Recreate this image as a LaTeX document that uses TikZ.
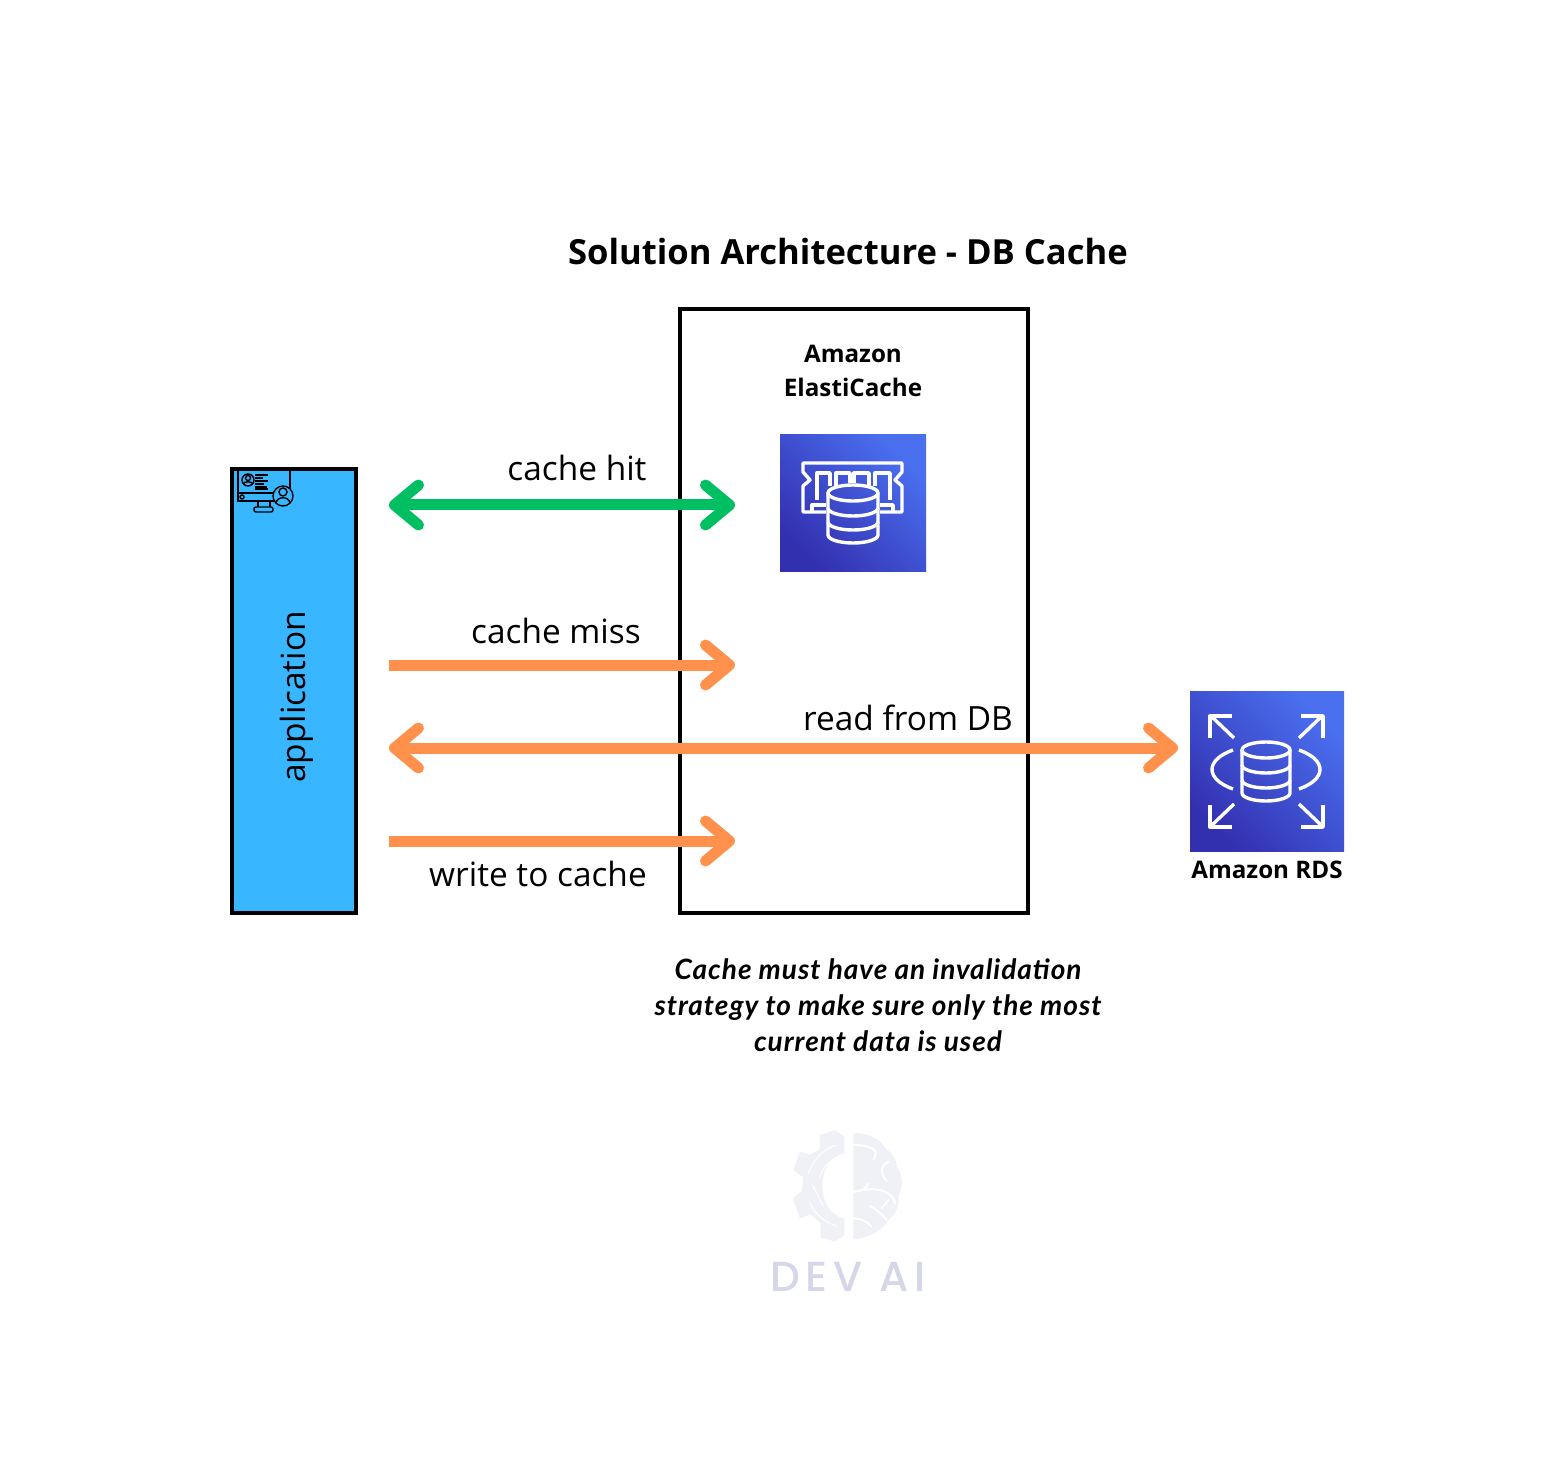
\documentclass[tikz,border=0pt]{standalone}
\usepackage{fontspec}
\setmainfont{Open Sans}
\newfontfamily\notefont[LetterSpace=3.5]{Lato}
\newfontfamily\logofont[LetterSpace=14,UprightFont=* Medium]{Poppins}
\usetikzlibrary{arrows.meta}
\definecolor{appblue}{HTML}{38B6FF}
\definecolor{hitgreen}{HTML}{00BF63}
\definecolor{missorange}{HTML}{FF914D}
\definecolor{awsdark}{HTML}{3330B0}
\definecolor{awslight}{HTML}{4A70F0}
\definecolor{logopale}{HTML}{F0F0F7}
\definecolor{logotext}{HTML}{D5D7E8}

\begin{document}
\begin{tikzpicture}[
		x=0.5pt, y=-0.5pt,
		box/.style={rectangle, draw=black, line width=2pt, inner sep=0pt},
		awsicon/.style={rectangle, bottom color=awsdark, top color=awslight, shading angle=-45, inner sep=0pt},
		label/.style={font=\fontsize{16.7}{20}\selectfont, inner sep=0pt},
		bold/.style={font=\fontsize{12.1}{17}\selectfont\bfseries, inner sep=0pt, align=center},
		flow/.style={line width=5.5pt},
		both/.style={flow, {Straight Barb[length=12pt,width=20pt,round]}-{Straight Barb[length=12pt,width=20pt,round]}},
		one/.style={flow, -{Straight Barb[length=12pt,width=20pt,round]}},
		glyph/.style={draw=white, line width=1.7pt, line join=round},
		thin/.style={draw=black, line width=0.7pt},
		circuit/.style={draw=white, line width=0.5pt},
		fold/.style={draw=white, line width=1pt, line cap=round}
	]
	\useasboundingbox (0,0) rectangle (1553,1476);

	% Title
	\node[font=\fontsize{17.3}{20}\selectfont\bfseries, inner sep=0pt] (title) at (848,252) {Solution Architecture - DB Cache};

	% Boxes
	\node[box, fill=appblue, minimum width=62pt, minimum height=222pt] (app) at (294,691) {};
	\node[box, fill=white, minimum width=174pt, minimum height=302pt] (cache) at (854,611) {};
	\node[label, rotate=90] (appname) at (297,697) {application};

	% Amazon ElastiCache
	\node[bold] (ecname) at (853,371) {Amazon\\ElastiCache};
	\node[awsicon, minimum width=73pt, minimum height=68pt] (ec) at (853,503) {};
	\draw[glyph] (826,512) -- (803,512) -- (803,486) -- (810,480) -- (803,472) -- (803,463) -- (902,463) -- (902,472) -- (895,480) -- (902,486) -- (902,512) -- (880,512);
	\draw[glyph] (826,505) -- (812,505) -- (812,512);
	\draw[glyph] (880,505) -- (893,505) -- (893,512);
	\draw[glyph] (817,500) -- (817,473) -- (830,473) -- (830,486);
	\draw[glyph] (836,486) -- (836,473) -- (850,473) -- (850,483);
	\draw[glyph] (854,483) -- (854,473) -- (869,473) -- (869,486);
	\draw[glyph] (875,486) -- (875,473) -- (890,473) -- (890,500);
	\draw[glyph, fill=none] (853,493) ellipse [x radius=25, y radius=8];
	\draw[glyph] (828,493) -- (828,535) arc[start angle=180, end angle=0, x radius=25, y radius=8] -- (878,493);
	\draw[glyph] (828,508) arc[start angle=180, end angle=0, x radius=25, y radius=8];
	\draw[glyph] (828,522) arc[start angle=180, end angle=0, x radius=25, y radius=8];

	% Amazon RDS
	\node[awsicon, minimum width=77pt, minimum height=80pt] (rds) at (1267,771) {};
	\node[bold] (rdsname) at (1267,870) {Amazon RDS};
	\draw[glyph] (1266,750) ellipse [x radius=24, y radius=8];
	\draw[glyph] (1242,750) -- (1242,793) arc[start angle=180, end angle=0, x radius=24, y radius=8] -- (1290,750);
	\draw[glyph] (1242,765) arc[start angle=180, end angle=0, x radius=24, y radius=8];
	\draw[glyph] (1242,780) arc[start angle=180, end angle=0, x radius=24, y radius=8];
	\draw[glyph] (1233,750) .. controls (1205,760) and (1205,779) .. (1233,789);
	\draw[glyph] (1299,750) .. controls (1327,760) and (1327,779) .. (1299,789);
	\draw[glyph] (1234,738) -- (1211,716);
	\draw[glyph] (1232,716) -- (1210,716) -- (1210,738);
	\draw[glyph] (1299,738) -- (1322,716);
	\draw[glyph] (1301,716) -- (1323,716) -- (1323,738);
	\draw[glyph] (1234,804) -- (1211,826);
	\draw[glyph] (1210,805) -- (1210,827) -- (1232,827);
	\draw[glyph] (1299,804) -- (1322,826);
	\draw[glyph] (1323,805) -- (1323,827) -- (1301,827);

	% Application icon
	\draw[thin] (238,470) -- (238,501) -- (290,501) -- (290,470);
	\draw[thin] (238,493) -- (273,493);
	\draw[thin] (242,497) circle (2);
	\draw[thin] (258,501) -- (258,507);
	\draw[thin] (270,501) -- (270,507);
	\draw[thin, rounded corners=1pt] (254,507) rectangle (273,512);
	\draw[thin] (248,480) circle (6);
	\draw[thin] (248,478) circle (2.5);
	\draw[thin] (243,484) .. controls (245,481) and (251,481) .. (253,484);
	\foreach \yy/\xx in {475/268,478/263,481/268,484/264,487/267,489/268}
		\draw[thin] (255,\yy) -- (\xx,\yy);
	\draw[thin, fill=appblue] (283,496) circle (10);
	\draw[thin] (283,492) circle (4);
	\draw[thin] (276,503) .. controls (277,496) and (289,496) .. (290,503);

	% Connector ends
	\coordinate (hitA) at (389,505);
	\coordinate (hitB) at (735,505);
	\coordinate (missA) at (389,665);
	\coordinate (missB) at (735,665);
	\coordinate (readA) at (389,748);
	\coordinate (readB) at (1178,748);
	\coordinate (writeA) at (389,841);
	\coordinate (writeB) at (735,841);

	% Connectors
	\draw[both, hitgreen] (hitA) -- (hitB);
	\draw[one, missorange] (missA) -- (missB);
	\draw[both, missorange] (readA) -- (readB);
	\draw[one, missorange] (writeA) -- (writeB);

	% Connector labels
	\node[label] (hitlabel) at (577,468) {cache hit};
	\node[label] (misslabel) at (556,631) {cache miss};
	\node[label] (readlabel) at (908,718) {read from DB};
	\node[label] (writelabel) at (538,874) {write to cache};

	% Note
	\node[font=\fontsize{14}{18}\selectfont\notefont\bfseries\itshape, align=center, inner sep=0pt] (note) at (878,1005) {Cache must have an invalidation\\strategy to make sure only the most\\current data is used};

	% Logo
	\begin{scope}[shift={(760,1120)}, x=0.1667pt, y=-0.1667pt]
		\fill[logopale] (253,50) -- (225,30) -- (180,45) -- (178,88) -- (148,105) -- (120,95) -- (100,150) -- (130,172) -- (126,212) -- (98,235) -- (120,295) -- (152,283) -- (182,310) -- (182,352) -- (225,365) -- (253,345) -- (253,295) .. controls (165,280) and (165,115) .. (253,100) -- cycle;
		\draw[circuit] (145,160) .. controls (165,110) and (195,85) .. (228,75);
		\draw[circuit] (178,175) .. controls (190,135) and (215,115) .. (250,108);
		\draw[circuit] (158,195) -- (190,260);
		\draw[circuit] (150,250) .. controls (170,290) and (200,310) .. (232,318);
		\fill[logopale] (280,40) .. controls (320,35) and (365,60) .. (375,85) .. controls (400,100) and (412,125) .. (410,140) .. controls (430,165) and (430,205) .. (415,225) .. controls (420,260) and (405,285) .. (385,300) .. controls (365,335) and (320,355) .. (280,358) -- cycle;
		\draw[fold] (280,75) .. controls (320,75) and (365,85) .. (340,118);
		\draw[fold] (385,125) .. controls (355,140) and (365,170) .. (380,182);
		\draw[fold] (280,215) .. controls (310,215) and (320,200) .. (325,190);
		\draw[fold] (315,210) .. controls (360,200) and (400,220) .. (405,250);
		\draw[fold] (330,258) .. controls (360,275) and (372,290) .. (380,300);
		\draw[fold] (365,265) -- (385,240);
		\draw[fold] (280,295) .. controls (300,295) and (325,305) .. (335,320);
	\end{scope}
	\node[font=\fontsize{21}{24}\selectfont\logofont, text=logotext, inner sep=0pt] (logotxt) at (848,1277) {DEV AI};
\end{tikzpicture}
\end{document}
